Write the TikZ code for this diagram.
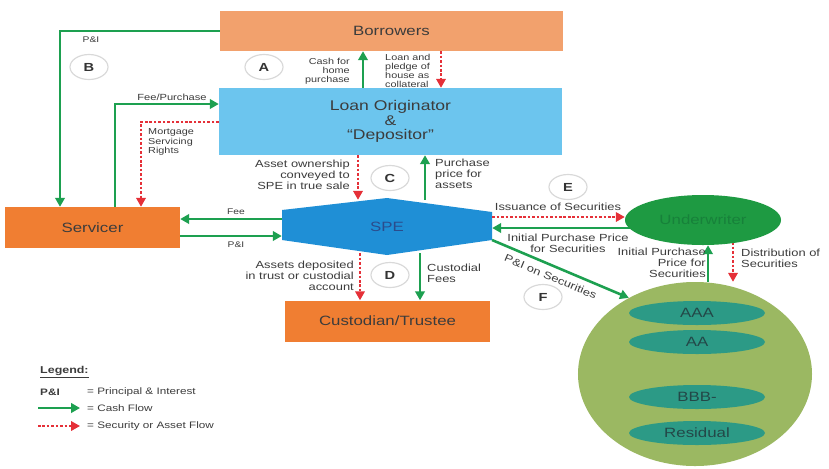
\documentclass[tikz,border=0pt]{standalone}
\usepackage{fontspec}
\setmainfont[FakeStretch=1.25]{Liberation Sans}
\usetikzlibrary{arrows.meta,shapes.geometric,backgrounds}

\definecolor{borrowC}{HTML}{F2A16D}
\definecolor{origC}{HTML}{6CC5EE}
\definecolor{orangeC}{HTML}{F07E32}
\definecolor{speC}{HTML}{1F8FD6}
\definecolor{speTxt}{HTML}{2B4C8C}
\definecolor{uwC}{HTML}{1E9A42}
\definecolor{uwTxt}{HTML}{17813A}
\definecolor{poolC}{HTML}{9BB862}
\definecolor{trancheC}{HTML}{2C9A86}
\definecolor{trancheTxt}{HTML}{234848}
\definecolor{cashC}{HTML}{1DA050}
\definecolor{assetC}{HTML}{E53038}
\definecolor{txtC}{HTML}{3C3C3C}

\tikzset{
  box/.style={inner sep=0pt, text=txtC, align=center},
  cash/.style={draw=cashC, line width=2.2pt, -{Triangle[length=7.5pt,width=8pt]}},
  asset/.style={draw=assetC, line width=1.5pt, dash pattern=on 2.2pt off 1.6pt,
                -{Triangle[length=7.5pt,width=8pt]}},
  lbl/.style={inner sep=0pt, text=txtC, font=\fontsize{8.8}{9.4}\selectfont},
  smalllbl/.style={inner sep=0pt, text=txtC, font=\fontsize{7.4}{7.8}\selectfont},
  tag/.style={ellipse, draw=gray!30, line width=1pt, fill=white,
              minimum width=1.14cm, minimum height=0.75cm, inner sep=0pt,
              font=\bfseries\fontsize{10}{10}\selectfont, text=black!80},
  tranche/.style={ellipse, fill=trancheC, minimum width=4.08cm, minimum height=0.72cm,
                  inner sep=0pt, text=trancheTxt, font=\fontsize{11.5}{12}\selectfont},
}

\begin{document}
\begin{tikzpicture}[x=0.03cm, y=-0.03cm]
\useasboundingbox (0,0) rectangle (829,468);

% white page underneath everything
\begin{scope}[on background layer]
  \fill[white] (0,0) rectangle (829,468);
\end{scope}

% ---------- main parties ----------
\node[box, fill=borrowC, minimum width=10.29cm, minimum height=1.2cm,
      font=\fontsize{11.5}{12}\selectfont] (borrow) at (391.5,31) {Borrowers};
\node[box, fill=origC, minimum width=10.29cm, minimum height=2.01cm,
      font=\fontsize{12}{12.2}\selectfont] (orig) at (390.5,121.5)
      {Loan Originator\\\&\\“Depositor”};
\node[box, fill=orangeC, minimum width=5.25cm, minimum height=1.23cm,
      font=\fontsize{11.5}{12}\selectfont] (serv) at (92.5,227.5) {Servicer};
\node[box, fill=orangeC, minimum width=6.15cm, minimum height=1.23cm,
      font=\fontsize{11.5}{12}\selectfont] (cust) at (387.5,321) {Custodian/Trustee};

% special purpose entity: elongated hexagon
\coordinate (hnw) at (282,210);
\coordinate (htop) at (387,198);
\coordinate (hne) at (492,212);
\coordinate (hse) at (492,240);
\coordinate (hbot) at (387,255);
\coordinate (hsw) at (282,240);
\fill[speC] (hnw) -- (htop) -- (hne) -- (hse) -- (hbot) -- (hsw) -- cycle;
\node[inner sep=0pt, minimum width=6.3cm, minimum height=1.59cm, text=speTxt,
      font=\fontsize{11.5}{12}\selectfont] (spe) at (387,226.5) {SPE};

% underwriter and the securities pool
\node[ellipse, fill=uwC, minimum width=4.68cm, minimum height=1.5cm, inner sep=0pt,
      text=uwTxt, font=\fontsize{11.5}{12}\selectfont] (uw) at (703,220) {Underwriter};
\node[ellipse, fill=poolC, minimum width=7.02cm, minimum height=5.52cm, inner sep=0pt]
      (pool) at (695,374) {};
\node[tranche] (aaa) at (697,313) {AAA};
\node[tranche] (aa) at (697,342) {AA};
\node[tranche] (bbb) at (697,397) {BBB-};
\node[tranche] (res) at (697,433) {Residual};

% ---------- connector columns and rows ----------
\coordinate (cPI) at (60,0);
\coordinate (cFP) at (115,0);
\coordinate (cMSR) at (141,0);
\coordinate (cCash) at (363,0);
\coordinate (cLoan) at (441,0);
\coordinate (cAO) at (358,0);
\coordinate (cPP) at (425,0);
\coordinate (cAD) at (360,0);
\coordinate (cCF) at (420,0);
\coordinate (cIPP) at (708,0);
\coordinate (cDist) at (733,0);
\coordinate (rPI) at (0,31);
\coordinate (rFP) at (0,104);
\coordinate (rMSR) at (0,122);
\coordinate (rFee) at (0,219);
\coordinate (rSPI) at (0,236);
\coordinate (rIss) at (0,217);
\coordinate (rIPP) at (0,228);

% ---------- flows ----------
\draw[cash] (borrow.west |- rPI) -| (serv.north -| cPI);
\draw[cash] (serv.north -| cFP) |- (orig.west |- rFP);
\draw[asset] (orig.west |- rMSR) -| (serv.north -| cMSR);
\draw[cash] (orig.north -| cCash) -- (borrow.south -| cCash);
\draw[asset] (borrow.south -| cLoan) -- (orig.north -| cLoan);
\draw[asset] (orig.south -| cAO) -- (spe.north -| cAO);
\draw[cash] (spe.north -| cPP) -- (orig.south -| cPP);
\draw[cash] (spe.west |- rFee) -- (serv.east |- rFee);
\draw[cash] (serv.east |- rSPI) -- (spe.west |- rSPI);
\draw[asset] (spe.south -| cAD) -- (cust.north -| cAD);
\draw[cash] (spe.south -| cCF) -- (cust.north -| cCF);
\draw[asset] (spe.east |- rIss) -- (uw.west |- rIss);
% these two start under the underwriter ellipse
\begin{scope}[on background layer]
  \draw[cash] (uw.center |- rIPP) -- (spe.east |- rIPP);
  \draw[asset] (uw.center -| cDist) -- (pool.north -| cDist);
\end{scope}
\draw[cash] (pool.north -| cIPP) -- (uw.south -| cIPP);
\draw[cash] (hse) -- node[sloped, below=5pt, pos=0.46, lbl] {P\&I on Securities} (pool.131);

% ---------- flow labels ----------
\node[inner sep=0pt, text=txtC, font=\fontsize{7}{7}\selectfont] (lPI) at (91,40) {P\&I};
\node[inner sep=0pt, text=txtC, font=\fontsize{7.6}{8}\selectfont] (lFP) at (172,97) {Fee/Purchase};
\node[smalllbl, anchor=west, align=left] (lMSR) at (148,142) {Mortgage\\Servicing\\Rights};
\node[smalllbl, anchor=east, align=right] (lCash) at (350,71) {Cash for\\home\\purchase};
\node[smalllbl, anchor=west, align=left] (lLoan) at (385,71) {Loan and\\pledge of\\house as\\collateral};
\node[lbl, anchor=east, align=right] (lAO) at (350,175) {Asset ownership\\conveyed to\\SPE in true sale};
\node[lbl, anchor=west, align=left] (lPP) at (435,174) {Purchase\\price for\\assets};
\node[inner sep=0pt, text=txtC, font=\fontsize{7}{7}\selectfont] (lFee) at (236,212) {Fee};
\node[inner sep=0pt, text=txtC, font=\fontsize{7}{7}\selectfont] (lSPI) at (236,245) {P\&I};
\node[lbl, anchor=east, align=right] (lAD) at (354,276) {Assets deposited\\in trust or custodial\\account};
\node[lbl, anchor=west, align=left] (lCF) at (427,273) {Custodial\\Fees};
\node[lbl] (lIss) at (558,207) {Issuance of Securities};
\node[lbl, align=center] (lIPP) at (568,243) {Initial Purchase Price\\for Securities};
\node[lbl, anchor=east, align=right] (lIPP2) at (706,263) {Initial Purchase\\Price for\\Securities};
\node[lbl, anchor=west, align=left] (lDist) at (741,258) {Distribution of\\Securities};

% ---------- step markers ----------
\node[tag] (tA) at (264,67) {A};
\node[tag] (tB) at (89,67) {B};
\node[tag] (tC) at (390,178) {C};
\node[tag] (tD) at (390,275) {D};
\node[tag] (tE) at (568,187) {E};
\node[tag] (tF) at (543,297) {F};

% ---------- legend ----------
\node[inner sep=0pt, anchor=west, text=txtC, font=\bfseries\fontsize{8.5}{9}\selectfont]
      (legT) at (40,372) {\underline{Legend:}};
\node[lbl, anchor=west, font=\bfseries\fontsize{8}{9}\selectfont] (legPI) at (40,392) {P\&I};
\node[lbl, anchor=west, font=\fontsize{8}{9}\selectfont] (legPIt) at (87,392) {= Principal \& Interest};
\coordinate (lgCa) at (38,408);
\coordinate (lgCb) at (80,408);
\draw[cash] (lgCa) -- (lgCb);
\node[lbl, anchor=west, font=\fontsize{8}{9}\selectfont] (legC) at (87,408) {= Cash Flow};
\coordinate (lgAa) at (38,426);
\coordinate (lgAb) at (80,426);
\draw[asset] (lgAa) -- (lgAb);
\node[lbl, anchor=west, font=\fontsize{8}{9}\selectfont] (legA) at (87,426) {= Security or Asset Flow};
\end{tikzpicture}
\end{document}
